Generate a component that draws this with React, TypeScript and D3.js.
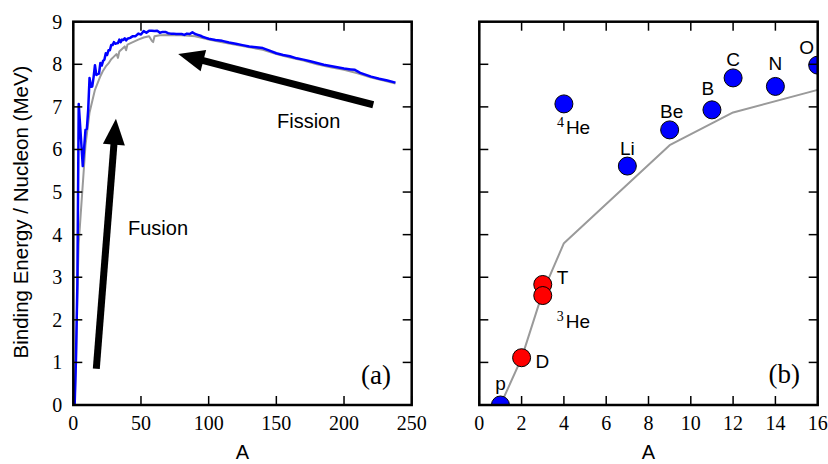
import React from 'react';
import * as d3 from 'd3';

// ---------- data ----------
const yTickValues = [0, 1, 2, 3, 4, 5, 6, 7, 8, 9];
const xTicksLeft = [0, 50, 100, 150, 200, 250];
const xTicksRight = [0, 2, 4, 6, 8, 10, 12, 14, 16];

// experimental binding energy per nucleon (blue)
const expA = [1, 2, 3, 4, 7, 9, 10, 11, 12, 13, 14, 15, 16, 17, 18, 19, 20, 21, 22, 23, 24, 25, 26, 27, 28, 29, 30, 31, 32, 33, 34, 35, 36, 37, 38, 39, 40, 42, 44, 46, 48, 50, 52, 54, 56, 58, 60, 62, 64, 66, 68, 70, 72, 74, 76, 78, 80, 82, 84, 86, 88, 90, 92, 94, 96, 98, 100, 105, 110, 115, 120, 125, 130, 135, 140, 145, 150, 155, 160, 165, 170, 175, 180, 185, 190, 195, 200, 205, 208, 209, 212, 220, 226, 232, 238];
const expB = [0, 1.11, 2.83, 7.07, 5.61, 6.46, 6.48, 6.93, 7.68, 7.47, 7.48, 7.70, 7.98, 7.75, 7.77, 7.78, 8.03, 7.97, 8.08, 8.11, 8.26, 8.22, 8.33, 8.33, 8.45, 8.45, 8.52, 8.48, 8.49, 8.50, 8.58, 8.52, 8.58, 8.57, 8.61, 8.56, 8.60, 8.62, 8.66, 8.66, 8.72, 8.70, 8.78, 8.74, 8.79, 8.79, 8.78, 8.79, 8.74, 8.76, 8.76, 8.73, 8.72, 8.72, 8.71, 8.71, 8.71, 8.69, 8.72, 8.71, 8.75, 8.71, 8.69, 8.67, 8.64, 8.62, 8.60, 8.57, 8.55, 8.51, 8.48, 8.45, 8.42, 8.40, 8.38, 8.32, 8.26, 8.22, 8.19, 8.14, 8.11, 8.07, 8.03, 7.99, 7.96, 7.93, 7.90, 7.88, 7.87, 7.85, 7.80, 7.71, 7.66, 7.62, 7.57];

// semi-empirical estimate (gray)
const semfA = [1, 2, 3, 4, 9, 12, 16, 20, 22, 24, 26, 28, 30, 32, 33, 34, 36, 38, 39, 40, 44, 48, 52, 56, 58, 59, 60, 64, 70, 80, 90, 100, 110, 120, 130, 140, 150, 160, 170, 180, 190, 200, 210, 220, 230, 238];
const semfB = [0, 1.1, 2.65, 3.8, 6.1, 6.87, 7.4, 7.72, 7.85, 7.95, 8.02, 8.12, 8.18, 8.24, 8.15, 8.3, 8.36, 8.42, 8.33, 8.46, 8.52, 8.58, 8.63, 8.66, 8.55, 8.52, 8.66, 8.68, 8.69, 8.68, 8.66, 8.58, 8.52, 8.46, 8.40, 8.34, 8.24, 8.16, 8.09, 8.00, 7.93, 7.87, 7.79, 7.69, 7.61, 7.55];

// light nuclides (panel b)
const nucA = [1, 2, 3, 3, 4, 7, 9, 11, 12, 14, 16];
const nucB = [0, 1.11, 2.83, 2.57, 7.07, 5.61, 6.46, 6.93, 7.68, 7.48, 7.98];
const nucSymbol = ['p', 'D', 'T', 'He', 'He', 'Li', 'Be', 'B', 'C', 'N', 'O'];
const nucMass = ['', '', '', '3', '4', '', '', '', '', '', ''];
const nucKind = ['other', 'light', 'light', 'light', 'other', 'other', 'other', 'other', 'other', 'other', 'other'];

// arrows (data coordinates of panel a)
const fusionFrom = [17, 0.85];
const fusionTo = [31.5, 6.72];
const fissionFrom = [221.6, 7.05];
const fissionTo = [77.5, 8.24];

// ---------- layout ----------
const W = 828;
const H = 464;
const TOP = 21.7;
const BOTTOM = 405;
const LEFT_PANEL = [73.3, 411.7];
const RIGHT_PANEL = [479.3, 817.7];
const TICK = 9;
const SANS = '"Liberation Sans", Arial, Helvetica, sans-serif';
const SERIF = '"Liberation Serif", "Times New Roman", serif';
const BLUE = '#0000ff';
const RED = '#ff0000';
const GRAY = '#9a9a9a';
// label placement relative to marker centre: [dx, dy(baseline), anchor]
const labelLayout: [number, number, string][] = [
  [0, -15, 'middle'],
  [14, 10, 'start'],
  [14, 0, 'start'],
  [14, 32, 'start'],
  [-7, 30, 'start'],
  [0, -11, 'middle'],
  [2, -12, 'middle'],
  [-4, -15, 'middle'],
  [0, -12, 'middle'],
  [0, -16, 'middle'],
  [-11, -11, 'middle'],
];

const yScale = d3.scaleLinear().domain([0, 9]).range([BOTTOM, TOP]);
const xLeft = d3.scaleLinear().domain([0, 250]).range(LEFT_PANEL);
const xRight = d3.scaleLinear().domain([0, 16]).range(RIGHT_PANEL);

function Frame({ x, ticks }: { x: d3.ScaleLinear<number, number>; ticks: number[] }) {
  const [x0, x1] = x.range();
  return (
    <g>
      {ticks.map((t) => (
        <g key={'x' + t}>
          <line x1={x(t)} x2={x(t)} y1={BOTTOM} y2={BOTTOM - TICK} stroke="#000" strokeWidth={1.5} />
          <line x1={x(t)} x2={x(t)} y1={TOP} y2={TOP + TICK} stroke="#000" strokeWidth={1.5} />
          <text x={x(t)} y={BOTTOM + 25} textAnchor="middle" fontFamily={SERIF} fontSize={20}>
            {t}
          </text>
        </g>
      ))}
      {yTickValues.map((t) => (
        <g key={'y' + t}>
          <line x1={x0} x2={x0 + TICK} y1={yScale(t)} y2={yScale(t)} stroke="#000" strokeWidth={1.5} />
          <line x1={x1} x2={x1 - TICK} y1={yScale(t)} y2={yScale(t)} stroke="#000" strokeWidth={1.5} />
        </g>
      ))}
      <rect x={x0} y={TOP} width={x1 - x0} height={BOTTOM - TOP} fill="none" stroke="#000" strokeWidth={2.5} />
      <text x={(x0 + x1) / 2} y={459} textAnchor="middle" fontFamily={SANS} fontSize={20}>
        A
      </text>
    </g>
  );
}

function Arrow({ from, to }: { from: number[]; to: number[] }) {
  const tx = xLeft(from[0]);
  const ty = yScale(from[1]);
  const hx = xLeft(to[0]);
  const hy = yScale(to[1]);
  const dx = hx - tx;
  const dy = hy - ty;
  const len = Math.hypot(dx, dy);
  const ux = dx / len;
  const uy = dy / len;
  const headLen = 26;
  const half = 11;
  const bx = hx - ux * headLen;
  const by = hy - uy * headLen;
  const px = -uy;
  const py = ux;
  const pts = [
    [hx, hy],
    [bx + px * half, by + py * half],
    [bx - px * half, by - py * half],
  ];
  return (
    <g>
      <line x1={tx} y1={ty} x2={bx + ux * 2} y2={by + uy * 2} stroke="#000" strokeWidth={7} />
      <polygon points={pts.map((p) => p.join(',')).join(' ')} fill="#000" />
    </g>
  );
}

export default function App() {
  const lineL = d3
    .line<number>()
    .x((_, i) => xLeft(expA[i]))
    .y((d) => yScale(d));
  const grayL = d3
    .line<number>()
    .x((_, i) => xLeft(semfA[i]))
    .y((d) => yScale(d));
  const grayR = d3
    .line<number>()
    .x((_, i) => xRight(semfA[i]))
    .y((d) => yScale(d));

  return (
    <svg
      width={W}
      height={H}
      viewBox={`0 0 ${W} ${H}`}
      style={{ position: 'absolute', left: 0, top: 0, background: '#fff' }}
    >
      <defs>
        <clipPath id="clipL">
          <rect x={LEFT_PANEL[0]} y={TOP} width={LEFT_PANEL[1] - LEFT_PANEL[0]} height={BOTTOM - TOP} />
        </clipPath>
        <clipPath id="clipR">
          <rect x={RIGHT_PANEL[0]} y={TOP} width={RIGHT_PANEL[1] - RIGHT_PANEL[0]} height={BOTTOM - TOP} />
        </clipPath>
      </defs>

      {/* panel (a) */}
      <g clipPath="url(#clipL)">
        <path d={grayL(semfB) || ''} fill="none" stroke={GRAY} strokeWidth={2} strokeLinejoin="round" />
        <path d={lineL(expB) || ''} fill="none" stroke={BLUE} strokeWidth={2.5} strokeLinejoin="round" />
      </g>
      <Arrow from={fusionFrom} to={fusionTo} />
      <Arrow from={fissionFrom} to={fissionTo} />
      <text x={128} y={235} fontFamily={SANS} fontSize={20}>
        Fusion
      </text>
      <text x={277} y={128} fontFamily={SANS} fontSize={20}>
        Fission
      </text>
      <text x={391} y={384} textAnchor="end" fontFamily={SERIF} fontSize={27}>
        (a)
      </text>
      <Frame x={xLeft} ticks={xTicksLeft} />
      {yTickValues.map((t) => (
        <text
          key={'yl' + t}
          x={LEFT_PANEL[0] - 11}
          y={yScale(t)}
          dy="0.35em"
          textAnchor="end"
          fontFamily={SERIF}
          fontSize={20}
        >
          {t}
        </text>
      ))}
      <text
        transform={`translate(28, 212) rotate(-90)`}
        textAnchor="middle"
        fontFamily={SANS}
        fontSize={20.5}
      >
        Binding Energy / Nucleon (MeV)
      </text>

      {/* panel (b) */}
      <g clipPath="url(#clipR)">
        <path d={grayR(semfB) || ''} fill="none" stroke={GRAY} strokeWidth={2} strokeLinejoin="round" />
        {nucA.map((a, i) => (
          <circle
            key={'c' + i}
            cx={xRight(a)}
            cy={yScale(nucB[i])}
            r={9}
            fill={nucKind[i] === 'light' ? RED : BLUE}
            stroke="#000"
            strokeWidth={1}
          />
        ))}
      </g>
      {nucA.map((a, i) => {
        const [dx, dy, anchor] = labelLayout[i];
        return (
          <text
            key={'l' + i}
            x={xRight(a) + dx}
            y={yScale(nucB[i]) + dy}
            textAnchor={anchor}
            fontFamily={SANS}
            fontSize={19}
          >
            {nucMass[i] ? (
              <tspan fontFamily={SERIF} fontSize={14} dy={-7}>
                {nucMass[i]}
              </tspan>
            ) : null}
            {nucMass[i] ? (
              <tspan dx={2} dy={7}>
                {nucSymbol[i]}
              </tspan>
            ) : (
              nucSymbol[i]
            )}
          </text>
        );
      })}
      <text x={800} y={383} textAnchor="end" fontFamily={SERIF} fontSize={27}>
        (b)
      </text>
      <Frame x={xRight} ticks={xTicksRight} />
    </svg>
  );
}
